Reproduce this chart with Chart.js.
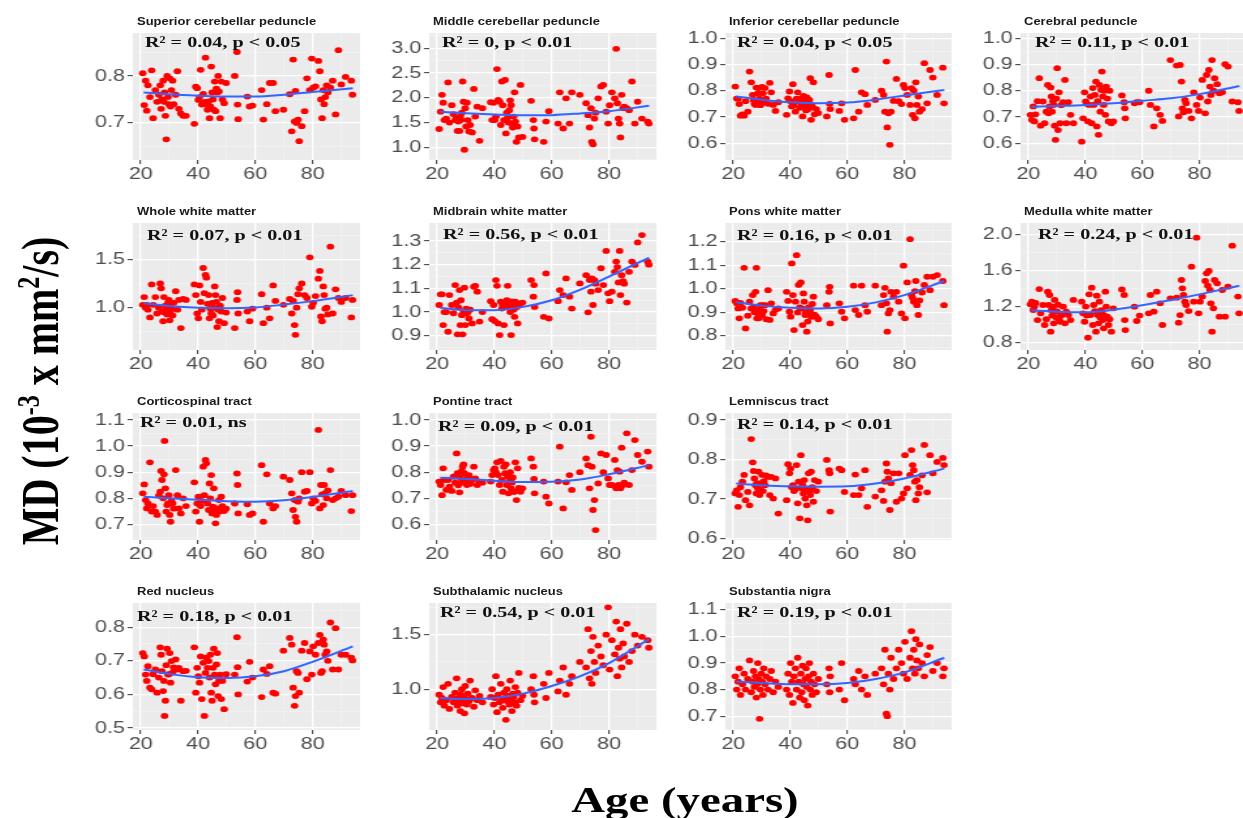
<!DOCTYPE html>
<html>
<head>
<meta charset="utf-8">
<script src="https://cdn.jsdelivr.net/npm/chart.js@4.4.1/dist/chart.umd.min.js"></script>
<style>
html, body { margin: 0; padding: 0; background: #fff; overflow: hidden; width: 1243px; height: 818px; }
#fig { position: absolute; left: 0; top: 0; width: 960px; height: 818px; transform-origin: 0 0; }
.panel { position: absolute; }
.ttl { position: absolute; font: bold 10px "Liberation Sans", Arial, sans-serif; line-height: 10px; color: #1a1a1a; white-space: nowrap; }
.note { position: absolute; font: bold 15.5px "Liberation Serif", "Times New Roman", serif; line-height: 16px; color: #111; white-space: nowrap; }
.axt { position: absolute; font: bold 36px "Liberation Serif", "Times New Roman", serif; color: #000; white-space: nowrap; transform: translate(-50%, -50%); }
.axt sup { font-size: 0.6em; }
</style>
</head>
<body>
<div id="fig"></div>
<script>
// the source figure is stretched sideways, so everything is drawn narrow and scaled in x
const S = 1.3;
const colLeft = [133, 429, 725, 1020];
const rowTop = [33, 223, 413, 603];
const PW = 227, PH = 127, AXW = 48, PADT = 12, XAH = 30;

// subject ages, shared by every panel
const ages = [20.7, 21.2, 21.7, 22.1, 22.5, 23.2, 23.8, 24.3, 25.1, 25.7, 26.3, 26.8, 27.1, 27.4, 27.8, 28.1, 28.3, 28.6, 28.9, 29.2, 29.5, 29.8, 30.1, 30.4, 30.7, 31.1, 31.5, 32.2, 32.8, 33.3, 34.0, 34.8, 35.8,
  38.7, 39.2, 39.7, 40.1, 40.5, 40.9, 41.3, 41.8, 42.2, 42.6, 42.9, 43.3, 43.7, 44.0, 44.3, 44.6, 44.9, 45.2, 45.5, 45.8, 46.1, 46.4, 46.7, 47.0, 47.3, 47.7, 48.1, 48.5, 49.1, 49.8,
  52.8, 53.6, 53.8, 54.0, 57.2, 58.0, 59.0, 62.2, 62.8, 64.0, 65.0, 66.2, 67.0, 69.8,
  72.0, 72.7, 73.2, 73.7, 74.0, 74.4, 74.9, 75.3, 76.2, 77.2, 78.0, 79.0, 79.7, 80.2, 81.0, 82.0, 82.5, 82.9, 83.3, 83.7, 84.0, 84.4, 84.9, 85.3, 86.2, 87.0, 88.0, 89.0, 90.0, 91.5, 93.5, 93.9];
const fitAges = [21, 30, 40, 50, 60, 70, 80, 94];
const xTicks = [20, 40, 60, 80];

const titles = ['Superior cerebellar peduncle', 'Middle cerebellar peduncle', 'Inferior cerebellar peduncle', 'Cerebral peduncle',
  'Whole white matter', 'Midbrain white matter', 'Pons white matter', 'Medulla white matter',
  'Corticospinal tract', 'Pontine tract', 'Lemniscus tract',
  'Red nucleus', 'Subthalamic nucleus', 'Substantia nigra'];
const notes = ['R² = 0.04, p < 0.05', 'R² = 0, p < 0.01', 'R² = 0.04, p < 0.05', 'R² = 0.11, p < 0.01',
  'R² = 0.07, p < 0.01', 'R² = 0.56, p < 0.01', 'R² = 0.16, p < 0.01', 'R² = 0.24, p < 0.01',
  'R² = 0.01, ns', 'R² = 0.09, p < 0.01', 'R² = 0.14, p < 0.01',
  'R² = 0.18, p < 0.01', 'R² = 0.54, p < 0.01', 'R² = 0.19, p < 0.01'];
const yTicks = [[0.7, 0.8], [1.0, 1.5, 2.0, 2.5, 3.0], [0.6, 0.7, 0.8, 0.9, 1.0], [0.6, 0.7, 0.8, 0.9, 1.0],
  [1.0, 1.5], [0.9, 1.0, 1.1, 1.2, 1.3], [0.8, 0.9, 1.0, 1.1, 1.2], [0.8, 1.2, 1.6, 2.0],
  [0.7, 0.8, 0.9, 1.0, 1.1], [0.6, 0.7, 0.8, 0.9, 1.0], [0.6, 0.7, 0.8, 0.9],
  [0.5, 0.6, 0.7, 0.8], [1.0, 1.5], [0.7, 0.8, 0.9, 1.0, 1.1]];
const yRanges = [[0.621, 0.8915], [0.743, 3.31], [0.536, 1.02], [0.536, 1.02],
  [0.563, 1.875], [0.84, 1.376], [0.739, 1.28], [0.719, 2.125],
  [0.64, 1.127], [0.54, 1.027], [0.596, 0.918],
  [0.494, 0.872], [0.627, 1.79], [0.648, 1.126]];

const supCerebPed = [0.806, 0.738, 0.79, 0.726, 0.78, 0.755, 0.812, 0.71, 0.77, 0.745, 0.76, 0.78, 0.73, 0.75, 0.79, 0.745, 0.765, 0.715, 0.665, 0.80, 0.755, 0.74, 0.795, 0.735, 0.77, 0.79, 0.74, 0.76, 0.81, 0.73, 0.72, 0.715, 0.715,
  0.698, 0.777, 0.774, 0.749, 0.755, 0.813, 0.739, 0.762, 0.745, 0.839, 0.74, 0.728, 0.746, 0.71, 0.735, 0.82, 0.765, 0.75, 0.728, 0.788, 0.725, 0.773, 0.765, 0.80, 0.767, 0.71, 0.788, 0.75, 0.742, 0.785,
  0.80, 0.851, 0.739, 0.708, 0.756, 0.735, 0.737, 0.77, 0.707, 0.74, 0.785, 0.785, 0.725, 0.728,
  0.761, 0.682, 0.835, 0.703, 0.768, 0.70, 0.707, 0.661, 0.693, 0.725, 0.795, 0.77, 0.837, 0.775, 0.778, 0.832, 0.81, 0.75, 0.71, 0.77, 0.74, 0.755, 0.78, 0.765, 0.775, 0.79, 0.718, 0.855, 0.782, 0.798, 0.79, 0.76];
const midCerebPed = [1.37, 1.72, 2.06, 1.90, 1.55, 1.58, 2.31, 1.50, 1.85, 1.67, 1.55, 1.60, 1.33, 1.52, 1.33, 1.62, 1.55, 1.70, 2.33, 1.92, 0.95, 1.79, 1.42, 1.90, 1.55, 1.32, 1.45, 1.30, 2.18, 1.62, 1.82, 1.13, 1.79,
  1.91, 1.55, 1.90, 1.55, 1.62, 2.58, 1.96, 1.92, 1.45, 2.33, 1.85, 1.55, 2.36, 1.28, 1.70, 1.60, 1.50, 1.75, 1.95, 1.85, 1.48, 1.40, 1.62, 2.11, 1.52, 1.11, 1.42, 1.20, 2.26, 1.21,
  1.94, 1.55, 1.38, 1.16, 1.11, 1.52, 1.73, 1.48, 2.11, 1.38, 1.99, 1.48, 2.11, 2.06,
  1.89, 1.65, 1.40, 1.79, 1.11, 1.06, 1.58, 1.70, 1.99, 2.23, 2.26, 1.72, 1.48, 1.85, 2.11, 1.99, 2.99, 1.89, 1.58, 1.48, 1.20, 2.06, 1.79, 1.82, 1.79, 1.75, 2.33, 1.48, 1.92, 1.58, 1.52, 1.48];
const infCerebPed = [0.816, 0.77, 0.769, 0.749, 0.705, 0.71, 0.705, 0.76, 0.72, 0.873, 0.832, 0.784, 0.765, 0.75, 0.746, 0.812, 0.76, 0.79, 0.81, 0.77, 0.745, 0.76, 0.815, 0.79, 0.755, 0.81, 0.77, 0.75, 0.83, 0.794, 0.746, 0.723, 0.756,
  0.708, 0.771, 0.797, 0.76, 0.74, 0.825, 0.746, 0.72, 0.77, 0.794, 0.76, 0.735, 0.77, 0.75, 0.702, 0.78, 0.76, 0.74, 0.725, 0.775, 0.755, 0.73, 0.765, 0.848, 0.689, 0.74, 0.832, 0.71, 0.73, 0.715,
  0.702, 0.86, 0.75, 0.73, 0.723, 0.752, 0.689, 0.695, 0.879, 0.72, 0.794, 0.787, 0.746, 0.765,
  0.80, 0.784, 0.72, 0.911, 0.66, 0.714, 0.594, 0.72, 0.761, 0.845, 0.76, 0.749, 0.822, 0.81, 0.784, 0.746, 0.81, 0.708, 0.80, 0.695, 0.832, 0.746, 0.778, 0.72, 0.73, 0.905, 0.752, 0.879, 0.85, 0.784, 0.888, 0.752];
const cerebralPed = [0.708, 0.689, 0.74, 0.683, 0.71, 0.76, 0.848, 0.667, 0.759, 0.676, 0.72, 0.822, 0.714, 0.74, 0.812, 0.778, 0.72, 0.76, 0.746, 0.667, 0.613, 0.77, 0.886, 0.65, 0.794, 0.676, 0.745, 0.756, 0.841, 0.676, 0.756, 0.708, 0.676,
  0.606, 0.695, 0.794, 0.759, 0.75, 0.683, 0.746, 0.778, 0.676, 0.81, 0.746, 0.784, 0.835, 0.664, 0.76, 0.632, 0.822, 0.72, 0.803, 0.873, 0.778, 0.746, 0.80, 0.708, 0.816, 0.77, 0.683, 0.80, 0.676, 0.683,
  0.782, 0.756, 0.733, 0.695, 0.752, 0.756, 0.756, 0.80, 0.746, 0.664, 0.733, 0.708, 0.685, 0.917,
  0.896, 0.702, 0.898, 0.835, 0.733, 0.718, 0.765, 0.752, 0.723, 0.695, 0.794, 0.746, 0.723, 0.774, 0.841, 0.714, 0.86, 0.759, 0.879, 0.816, 0.784, 0.917, 0.80, 0.848, 0.825, 0.79, 0.794, 0.901, 0.892, 0.759, 0.756, 0.723];
const wholeWM = [1.03, 1.11, 1.0, 1.03, 0.98, 0.90, 1.24, 1.03, 1.11, 0.94, 1.0, 1.25, 1.20, 0.96, 0.86, 1.11, 0.95, 1.02, 0.99, 0.93, 1.05, 1.08, 0.87, 0.97, 1.0, 0.92, 1.05, 1.17, 0.98, 1.08, 0.79, 1.09, 1.08,
  1.24, 1.13, 0.94, 0.89, 1.23, 1.06, 0.98, 1.41, 1.15, 1.34, 1.31, 1.04, 1.13, 0.89, 0.99, 0.94, 1.05, 0.92, 1.0, 1.22, 1.13, 1.06, 0.80, 0.98, 0.86, 1.02, 0.96, 1.1, 0.84, 0.95,
  0.79, 1.08, 1.16, 0.94, 0.96, 0.86, 0.99, 1.14, 0.84, 1.0, 0.89, 1.23, 1.07, 1.03,
  1.09, 0.94, 1.07, 0.82, 0.72, 1.0, 1.14, 1.2, 1.25, 1.13, 1.10, 1.52, 1.01, 1.05, 1.12, 1.30, 1.38, 0.91, 0.86, 1.22, 1.13, 0.99, 1.0, 0.93, 1.63, 0.94, 1.19, 1.10, 1.06, 1.10, 0.90, 1.08];
const midbrainWM = [1.03, 1.075, 1.075, 0.945, 1.0, 1.0, 0.917, 1.072, 1.03, 0.995, 1.114, 1.04, 0.906, 1.02, 1.093, 0.945, 1.05, 0.987, 0.906, 1.0, 1.103, 0.945, 1.015, 0.995, 1.0, 0.973, 1.01, 0.952, 1.107, 1.111, 1.086, 0.96, 1.0,
  1.046, 0.97, 1.03, 0.962, 1.135, 1.111, 0.952, 0.903, 1.044, 1.015, 1.03, 0.945, 1.04, 1.025, 1.05, 1.111, 1.02, 1.035, 1.0, 0.903, 1.045, 1.03, 1.01, 0.98, 1.044, 1.02, 0.952, 1.03, 1.037, 1.04,
  1.135, 1.065, 1.114, 1.022, 0.98, 1.163, 0.973, 1.046, 1.093, 1.072, 1.142, 1.065, 1.015, 1.121,
  1.156, 0.999, 1.135, 1.086, 1.142, 1.03, 1.135, 1.12, 1.093, 1.185, 1.114, 1.258, 1.079, 1.046, 1.086, 1.17, 1.213, 1.19, 1.125, 1.258, 1.072, 1.156, 1.131, 1.12, 1.04, 1.17, 1.213, 1.199, 1.294, 1.325, 1.213, 1.20];
const ponsWM = [0.948, 0.938, 0.916, 0.874, 0.94, 0.919, 1.089, 0.831, 0.885, 0.945, 0.916, 0.973, 0.92, 0.90, 0.987, 1.089, 0.874, 0.895, 0.874, 0.91, 0.93, 0.895, 0.888, 0.93, 0.905, 0.93, 0.87, 0.994, 0.867, 0.938, 0.895, 0.91, 0.916,
  0.987, 0.948, 0.902, 0.881, 1.108, 0.973, 0.824, 0.945, 1.143, 0.899, 1.016, 0.92, 1.027, 0.916, 0.845, 0.98, 0.945, 0.888, 0.90, 0.817, 0.86, 0.92, 0.895, 0.909, 0.88, 0.935, 0.966, 0.89, 0.881, 0.87,
  0.93, 0.987, 1.008, 0.852, 0.938, 0.902, 0.874, 1.013, 0.909, 0.888, 1.013, 0.93, 0.902, 1.013,
  0.93, 0.973, 1.004, 0.938, 0.817, 0.895, 0.909, 0.987, 0.966, 0.987, 0.945, 0.895, 1.098, 0.874, 1.027, 1.211, 0.973, 0.96, 0.945, 0.99, 1.033, 0.93, 0.888, 0.95, 0.984, 1.016, 1.051, 0.994, 1.051, 1.058, 1.033, 0.93];
const medullaWM = [1.225, 1.254, 1.162, 1.2, 1.24, 1.05, 1.394, 1.125, 1.217, 0.996, 1.06, 1.365, 1.217, 1.328, 0.922, 1.16, 1.1, 1.2, 1.014, 1.273, 1.15, 1.08, 1.143, 1.22, 1.06, 1.032, 1.1, 1.199, 1.014, 1.143, 1.106, 1.05, 1.273,
  1.254, 1.125, 1.032, 1.2, 1.1, 0.855, 1.335, 1.106, 1.409, 0.996, 1.217, 1.15, 0.922, 1.32, 1.106, 1.014, 1.254, 1.08, 1.16, 1.143, 1.05, 0.959, 1.1, 1.365, 1.199, 1.088, 0.996, 1.06, 0.922, 1.18,
  1.39, 1.328, 1.05, 0.94, 1.199, 1.04, 1.10, 1.125, 1.328, 1.143, 1.365, 1.236, 0.996, 1.291,
  1.298, 1.021, 1.106, 1.494, 1.402, 1.328, 1.254, 1.217, 1.15, 1.642, 1.254, 1.963, 1.125, 1.254, 1.31, 1.483, 1.568, 1.431, 1.594, 1.383, 1.236, 0.922, 1.18, 1.494, 1.457, 1.088, 1.383, 1.088, 1.42, 1.874, 1.31, 1.125];
const corticospinal = [0.819, 0.853, 0.793, 0.761, 0.78, 0.938, 0.749, 0.77, 0.749, 0.736, 0.81, 0.825, 0.905, 0.87, 0.80, 0.892, 1.02, 0.838, 0.749, 0.774, 0.78, 0.812, 0.736, 0.71, 0.79, 0.78, 0.76, 0.908, 0.812, 0.761, 0.742, 0.80, 0.77,
  0.861, 0.749, 0.78, 0.806, 0.71, 0.77, 0.79, 0.921, 0.812, 0.947, 0.934, 0.78, 0.755, 0.857, 0.80, 0.889, 0.742, 0.768, 0.838, 0.749, 0.704, 0.736, 0.76, 0.761, 0.793, 0.75, 0.806, 0.77, 0.751, 0.76,
  0.78, 0.895, 0.851, 0.742, 0.777, 0.736, 0.742, 0.927, 0.71, 0.892, 0.78, 0.761, 0.77, 0.883,
  0.87, 0.819, 0.755, 0.793, 0.729, 0.71, 0.787, 0.80, 0.90, 0.825, 0.828, 0.90, 0.78, 0.80, 0.79, 1.062, 0.761, 0.851, 0.815, 0.774, 0.851, 0.82, 0.80, 0.83, 0.908, 0.793, 0.80, 0.806, 0.828, 0.812, 0.751, 0.812];
const pontineTract = [0.764, 0.751, 0.712, 0.815, 0.77, 0.732, 0.77, 0.745, 0.728, 0.783, 0.76, 0.872, 0.796, 0.75, 0.723, 0.78, 0.76, 0.805, 0.821, 0.83, 0.796, 0.77, 0.764, 0.751, 0.78, 0.789, 0.755, 0.77, 0.821, 0.776, 0.751, 0.764, 0.76,
  0.764, 0.789, 0.808, 0.815, 0.80, 0.838, 0.789, 0.751, 0.843, 0.77, 0.725, 0.821, 0.796, 0.83, 0.751, 0.783, 0.719, 0.764, 0.80, 0.738, 0.76, 0.78, 0.725, 0.725, 0.838, 0.693, 0.815, 0.74, 0.725, 0.738,
  0.853, 0.821, 0.774, 0.719, 0.764, 0.706, 0.68, 0.764, 0.898, 0.661, 0.761, 0.789, 0.732, 0.80,
  0.853, 0.827, 0.738, 0.936, 0.821, 0.655, 0.693, 0.578, 0.757, 0.872, 0.80, 0.866, 0.776, 0.751, 0.751, 0.847, 0.738, 0.808, 0.751, 0.802, 0.738, 0.894, 0.751, 0.76, 0.949, 0.751, 0.808, 0.923, 0.866, 0.84, 0.879, 0.821];
const lemniscus = [0.714, 0.722, 0.68, 0.71, 0.73, 0.744, 0.761, 0.697, 0.718, 0.684, 0.852, 0.793, 0.771, 0.752, 0.735, 0.714, 0.74, 0.727, 0.769, 0.71, 0.725, 0.74, 0.761, 0.72, 0.745, 0.735, 0.76, 0.756, 0.71, 0.756, 0.701, 0.752, 0.663,
  0.697, 0.788, 0.765, 0.777, 0.73, 0.735, 0.72, 0.725, 0.786, 0.689, 0.744, 0.651, 0.811, 0.727, 0.735, 0.714, 0.748, 0.701, 0.725, 0.684, 0.646, 0.765, 0.72, 0.71, 0.769, 0.73, 0.693, 0.748, 0.72, 0.744,
  0.799, 0.773, 0.765, 0.668, 0.777, 0.773, 0.718, 0.71, 0.762, 0.71, 0.727, 0.773, 0.68, 0.706,
  0.722, 0.695, 0.744, 0.79, 0.769, 0.752, 0.672, 0.74, 0.765, 0.693, 0.765, 0.701, 0.714, 0.811, 0.727, 0.761, 0.824, 0.786, 0.773, 0.744, 0.697, 0.748, 0.714, 0.73, 0.76, 0.837, 0.717, 0.811, 0.765, 0.794, 0.804, 0.786];
const redNucleus = [0.723, 0.713, 0.659, 0.64, 0.684, 0.62, 0.615, 0.66, 0.674, 0.605, 0.65, 0.74, 0.718, 0.669, 0.61, 0.64, 0.536, 0.581, 0.687, 0.736, 0.659, 0.66, 0.723, 0.635, 0.699, 0.665, 0.68, 0.704, 0.674, 0.679, 0.581, 0.669, 0.67,
  0.74, 0.605, 0.679, 0.654, 0.635, 0.713, 0.586, 0.694, 0.536, 0.664, 0.709, 0.679, 0.699, 0.65, 0.718, 0.605, 0.581, 0.679, 0.736, 0.659, 0.63, 0.689, 0.723, 0.595, 0.64, 0.659, 0.586, 0.64, 0.556, 0.66,
  0.659, 0.77, 0.681, 0.60, 0.638, 0.697, 0.65, 0.592, 0.674, 0.661, 0.684, 0.605, 0.602, 0.73,
  0.768, 0.748, 0.62, 0.566, 0.595, 0.669, 0.664, 0.605, 0.73, 0.753, 0.645, 0.728, 0.659, 0.743, 0.718, 0.753, 0.777, 0.664, 0.669, 0.763, 0.748, 0.718, 0.728, 0.70, 0.814, 0.674, 0.797, 0.674, 0.718, 0.718, 0.709, 0.701];
const subthalamic = [0.95, 0.88, 0.92, 1.02, 0.85, 0.90, 1.05, 0.82, 0.93, 0.88, 0.97, 1.10, 0.85, 0.92, 0.90, 0.80, 0.95, 1.0, 0.87, 0.93, 0.78, 1.03, 0.91, 0.86, 0.96, 0.89, 1.08, 0.92, 0.84, 0.99, 0.90, 0.94, 0.88,
  0.93, 1.0, 0.86, 0.92, 1.12, 0.79, 0.95, 0.88, 1.05, 0.90, 0.83, 0.97, 0.92, 0.72, 1.0, 0.89, 0.94, 0.86, 1.08, 0.91, 0.80, 0.96, 0.93, 0.88, 1.02, 0.85, 0.97, 1.15, 0.90, 0.94,
  1.0, 1.12, 0.95, 0.88, 1.05, 0.92, 1.15, 0.98, 1.08, 1.20, 0.95, 1.05, 1.12, 1.25,
  1.20, 1.55, 1.10, 1.35, 1.05, 1.48, 1.25, 1.15, 1.40, 1.30, 1.22, 1.50, 1.75, 1.18, 1.45, 1.32, 1.62, 1.12, 1.38, 1.28, 1.55, 1.20, 1.42, 1.30, 1.60, 1.25, 1.35, 1.50, 1.40, 1.48, 1.45, 1.38];
const substNigra = [0.85, 0.80, 0.83, 0.88, 0.78, 0.82, 0.86, 0.80, 0.84, 0.91, 0.79, 0.83, 0.87, 0.81, 0.85, 0.77, 0.82, 0.90, 0.84, 0.69, 0.80, 0.86, 0.83, 0.78, 0.88, 0.82, 0.85, 0.80, 0.84, 0.87, 0.79, 0.83, 0.81,
  0.80, 0.86, 0.78, 0.90, 0.83, 0.75, 0.85, 0.88, 0.80, 0.92, 0.83, 0.77, 0.86, 0.79, 0.89, 0.82, 0.76, 0.84, 0.88, 0.81, 0.74, 0.85, 0.90, 0.80, 0.83, 0.78, 0.86, 0.82, 0.79, 0.84,
  0.82, 0.88, 0.79, 0.85, 0.80, 0.90, 0.76, 0.84, 0.82, 0.87, 0.80, 0.85, 0.78, 0.86,
  0.88, 0.82, 0.95, 0.71, 0.70, 0.86, 0.80, 0.92, 0.84, 0.88, 0.95, 0.90, 0.86, 0.98, 0.84, 0.92, 1.02, 0.88, 0.95, 0.86, 0.99, 0.91, 0.88, 0.97, 0.90, 0.85, 0.93, 0.96, 0.87, 0.90, 0.85, 0.88];

// loess curves at fitAges
const supCerebPedFit = [0.765, 0.761, 0.758, 0.756, 0.756, 0.760, 0.766, 0.774];
const midCerebPedFit = [1.72, 1.69, 1.665, 1.645, 1.65, 1.685, 1.73, 1.84];
const infCerebPedFit = [0.778, 0.766, 0.756, 0.752, 0.755, 0.766, 0.782, 0.803];
const cerebralPedFit = [0.739, 0.742, 0.746, 0.752, 0.762, 0.771, 0.787, 0.818];
const wholeWMFit = [1.045, 1.017, 1.0, 0.995, 1.003, 1.032, 1.068, 1.13];
const midbrainWMFit = [1.018, 1.008, 1.008, 1.022, 1.05, 1.095, 1.15, 1.23];
const ponsWMFit = [0.942, 0.928, 0.919, 0.916, 0.923, 0.942, 0.973, 1.033];
const medullaWMFit = [1.16, 1.143, 1.136, 1.165, 1.215, 1.272, 1.335, 1.43];
const corticospinalFit = [0.806, 0.800, 0.794, 0.789, 0.787, 0.792, 0.805, 0.828];
const pontineTractFit = [0.779, 0.774, 0.767, 0.762, 0.763, 0.772, 0.792, 0.827];
const lemniscusFit = [0.739, 0.735, 0.732, 0.731, 0.732, 0.739, 0.752, 0.777];
const redNucleusFit = [0.674, 0.661, 0.651, 0.649, 0.654, 0.669, 0.697, 0.743];
const subthalamicFit = [0.92, 0.91, 0.92, 0.96, 1.03, 1.12, 1.24, 1.46];
const substNigraFit = [0.83, 0.825, 0.82, 0.82, 0.825, 0.84, 0.865, 0.92];

const series = [supCerebPed, midCerebPed, infCerebPed, cerebralPed, wholeWM, midbrainWM, ponsWM, medullaWM,
  corticospinal, pontineTract, lemniscus, redNucleus, subthalamic, substNigra];
const fits = [supCerebPedFit, midCerebPedFit, infCerebPedFit, cerebralPedFit, wholeWMFit, midbrainWMFit, ponsWMFit, medullaWMFit,
  corticospinalFit, pontineTractFit, lemniscusFit, redNucleusFit, subthalamicFit, substNigraFit];

// layout: [row, col] of every panel, and where the R² line sits inside it
const cells = [[0, 0], [0, 1], [0, 2], [0, 3], [1, 0], [1, 1], [1, 2], [1, 3], [2, 0], [2, 1], [2, 2], [3, 0], [3, 1], [3, 2]];
const notePos = [[12, 9], [13, 9], [12, 9], [15, 9], [14, 12], [14, 11], [12, 12], [18, 11], [7, 9], [9, 13], [12, 11], [4, 13], [11, 9], [12, 9]];

const fig = document.getElementById('fig');
fig.style.transform = 'scaleX(' + S + ')';

const panelBg = {
  id: 'panelBg',
  beforeDraw(chart) {
    const { ctx, chartArea: a } = chart;
    ctx.save();
    ctx.fillStyle = '#EBEBEB';
    ctx.fillRect(a.left, a.top, a.right - a.left, a.bottom - a.top);
    ctx.restore();
  }
};

function withMinors(major, lo, hi) {
  const step = major[1] - major[0];
  const all = major.slice();
  [major[0] - step / 2].concat(major.map(m => m + step / 2)).forEach(v => {
    if (v > lo && v < hi) all.push(+v.toFixed(4));
  });
  return all.sort((a, b) => a - b);
}
const isIn = (list, v) => list.some(m => Math.abs(m - v) < 1e-6);

function axisGrid(major) {
  return {
    color: c => (c.tick && isIn(major, c.tick.value)) ? '#FFFFFF' : '#F5F5F5',
    lineWidth: c => (c.tick && isIn(major, c.tick.value)) ? 1.3 : 0.6,
    tickColor: c => (c.tick && isIn(major, c.tick.value)) ? '#333333' : 'rgba(0,0,0,0)',
    tickWidth: 1,
    tickLength: 4
  };
}
const tickFont = { family: '"Liberation Sans", Arial, sans-serif', size: 16.5 };

function addText(cls, html, x, y) {
  const d = document.createElement('div');
  d.className = cls;
  d.innerHTML = html;
  d.style.left = x / S + 'px';
  d.style.top = y + 'px';
  fig.appendChild(d);
  return d;
}

function buildPanel(i) {
  const [r, c] = cells[i];
  const left = colLeft[c], top = rowTop[r];
  const [yLo, yHi] = yRanges[i];
  const yAll = withMinors(yTicks[i], yLo, yHi);
  const xAll = withMinors(xTicks, 17.2, 96.8);

  const box = document.createElement('div');
  box.className = 'panel';
  box.style.left = (left - AXW) / S + 'px';
  box.style.top = (top - PADT) + 'px';
  box.style.width = (PW + AXW) / S + 'px';
  box.style.height = (PH + PADT + XAH) + 'px';
  const cv = document.createElement('canvas');
  box.appendChild(cv);
  fig.appendChild(box);

  addText('ttl', titles[i], left + 4, top - 16);
  const n = addText('note', '', left + notePos[i][0], top + notePos[i][1] - 8);
  n.textContent = notes[i];

  const pts = [];
  ages.forEach((a, k) => { if (series[i][k] !== undefined) pts.push({ x: a, y: series[i][k] }); });

  new Chart(cv, {
    type: 'scatter',
    data: {
      datasets: [{
        type: 'line',
        data: fitAges.map((a, k) => ({ x: a, y: fits[i][k] })),
        borderColor: '#3366FF',
        borderWidth: 2,
        pointRadius: 0,
        fill: false,
        cubicInterpolationMode: 'monotone'
      }, {
        data: pts,
        backgroundColor: '#FF0000',
        borderWidth: 0,
        pointRadius: 2.9
      }]
    },
    options: {
      responsive: true,
      maintainAspectRatio: false,
      animation: false,
      events: [],
      layout: { autoPadding: false, padding: { top: PADT, left: 0, right: 0, bottom: 0 } },
      plugins: { legend: { display: false }, tooltip: { enabled: false } },
      scales: {
        x: {
          type: 'linear', min: 17.2, max: 96.8,
          afterBuildTicks: s => { s.ticks = xAll.map(v => ({ value: v })); },
          afterFit: s => { s.height = XAH; },
          border: { display: false },
          grid: axisGrid(xTicks),
          ticks: { autoSkip: false, maxRotation: 0, padding: 1, color: '#4D4D4D', font: tickFont,
            callback: v => isIn(xTicks, v) ? String(v) : '' }
        },
        y: {
          type: 'linear', min: yLo, max: yHi,
          afterBuildTicks: s => { s.ticks = yAll.map(v => ({ value: v })); },
          afterFit: s => { s.width = AXW / S; },
          border: { display: false },
          grid: axisGrid(yTicks[i]),
          ticks: { autoSkip: false, padding: 2, color: '#4D4D4D', font: tickFont,
            callback: v => isIn(yTicks[i], v) ? v.toFixed(1) : '' }
        }
      }
    },
    plugins: [panelBg]
  });
}

for (let i = 0; i < titles.length; i++) buildPanel(i);

const yt = addText('axt', 'MD (10<sup>-3</sup> x mm<sup>2</sup>/s)', 40, 391);
yt.style.fontSize = '40px';
yt.style.transform = 'translate(-50%, -50%) rotate(-90deg)';
addText('axt', 'Age (years)', 685, 800);
</script>
</body>
</html>
